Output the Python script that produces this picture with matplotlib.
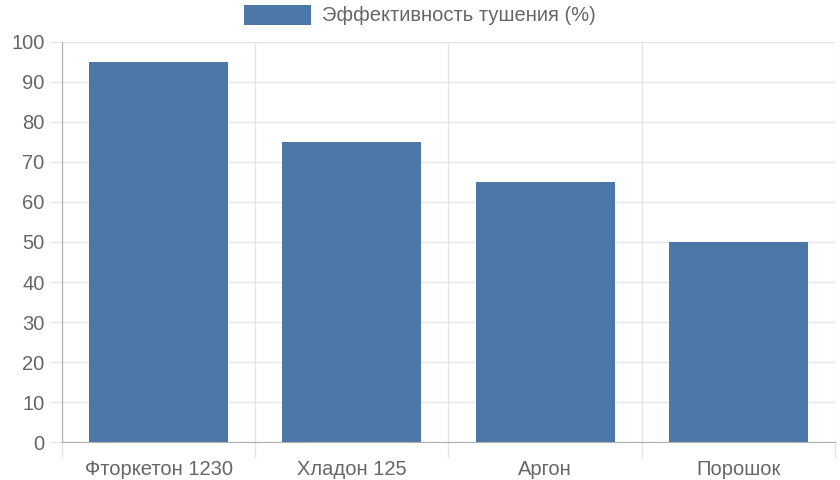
import matplotlib
matplotlib.use("Agg")
import matplotlib.pyplot as plt
from matplotlib.patches import Rectangle
import numpy as np

categories = ["Фторкетон 1230", "Хладон 125", "Аргон", "Порошок"]
values = [95, 75, 65, 50]
series_label = "Эффективность тушения (%)"
y_ticks = [0, 10, 20, 30, 40, 50, 60, 70, 80, 90, 100]

plt.rcParams['font.family'] = ['Liberation Sans', 'DejaVu Sans']
text_color = "#666666"
grid_color = "#e5e5e5"
axis_color = "#b0b0b0"
bar_color = "#4c78a8"
fs = 14.5

W, H = 840, 480
fig = plt.figure(figsize=(W / 100, H / 100), dpi=100)
ax = fig.add_axes([62 / W, 38 / H, (835 - 62) / W, 400 / H])

x = np.arange(len(categories))
ax.bar(x, values, width=0.72, color=bar_color, zorder=3)

ax.set_xlim(-0.5, len(categories) - 0.5)
ax.set_ylim(0, 100)
ax.set_yticks(y_ticks)
ax.set_yticklabels([str(v) for v in y_ticks])
ax.set_xticks(x)
ax.set_xticklabels(categories)
ax.set_xticks(np.arange(len(categories) + 1) - 0.5, minor=True)

ax.tick_params(axis='x', which='major', length=0, pad=13, labelsize=fs, colors=text_color)
ax.tick_params(axis='x', which='minor', length=11.5, color=grid_color, width=1)
ax.tick_params(axis='y', which='major', length=8.5, color=grid_color, pad=4, labelsize=fs, labelcolor=text_color)

ax.grid(True, axis='y', color=grid_color, linewidth=1, zorder=0)
ax.grid(True, axis='x', which='minor', color=grid_color, linewidth=1, zorder=0)
ax.grid(False, axis='x', which='major')

for side in ['top', 'right']:
    ax.spines[side].set_visible(False)
ax.spines['left'].set_color(axis_color)
ax.spines['bottom'].set_color(axis_color)
ax.spines['left'].set_zorder(4)
ax.spines['bottom'].set_zorder(4)

# legend
fig.patches.append(Rectangle((244 / W, 1 - 25 / H), 67 / W, 20 / H,
                             transform=fig.transFigure, facecolor=bar_color,
                             edgecolor='none'))
fig.text(322 / W, 1 - 15.5 / H, series_label, ha='left', va='center',
         fontsize=fs, color=text_color)

fig.savefig("out.png", dpi=100)
